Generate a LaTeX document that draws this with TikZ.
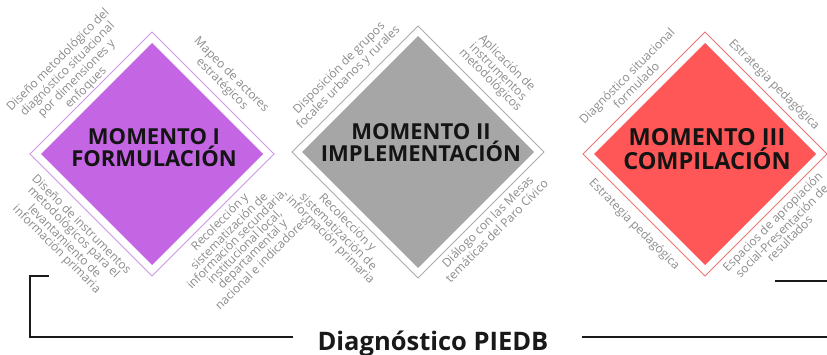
\documentclass[tikz,border=0pt]{standalone}
\usepackage{fontspec}
\setmainfont{Open Sans}
\usetikzlibrary{shapes.geometric}
\definecolor{fillA}{RGB}{196,102,228}
\definecolor{lineA}{RGB}{204,150,230}
\definecolor{fillB}{RGB}{166,166,166}
\definecolor{lineB}{RGB}{172,172,172}
\definecolor{fillC}{RGB}{255,87,87}
\definecolor{lineC}{RGB}{232,118,118}
\definecolor{pasogrey}{RGB}{140,140,140}
\definecolor{cierregrey}{RGB}{25,25,25}
\tikzset{
  rombo/.style={diamond, aspect=1, inner sep=0pt, outer sep=0pt},
  momento/.style={font=\bfseries\fontsize{22}{22}\selectfont, align=center, inner sep=0pt, text=black!92},
  paso/.style={font=\fontsize{12}{11}\selectfont, text=pasogrey, align=center, inner sep=0pt},
  paso tl/.style={paso, rotate=45, anchor=south},
  paso tr/.style={paso, rotate=-45, anchor=south},
  paso bl/.style={paso, rotate=-45, anchor=north},
  paso br/.style={paso, rotate=45, anchor=north},
  cierre/.style={line width=2pt, draw=cierregrey},
}
\begin{document}
\begin{tikzpicture}[x=1pt,y=1pt]
\useasboundingbox (0,0) rectangle (827,354);
% the three moments
\foreach \n/\cx/\cy/\ho/\hi/\f/\l in {1/152/200/244/222/fillA/lineA,
    2/418/202/252/232/fillB/lineB, 3/705/200/244/222/fillC/lineC} {
  \node[rombo, draw=\l, line width=0.9pt, minimum size=\ho pt] (o\n) at (\cx,\cy) {};
  \node[rombo, fill=\f, minimum size=\hi pt] (m\n) at (\cx,\cy) {};
}
\node[momento] (t1) at ([shift={(2,6.5)}]m1.center) {MOMENTO I\\FORMULACIÓN};
\node[momento] (t2) at ([shift={(3,9)}]m2.center) {MOMENTO II\\IMPLEMENTACIÓN};
\node[momento, font=\bfseries\fontsize{23.5}{24.5}\selectfont] (t3) at ([shift={(2,5)}]m3.center) {MOMENTO III\\COMPILACIÓN};
% steps round moment I
\node[paso tl] (p1a) at ([shift={(-0.5,0.5)}]o1.135) {Diseño metodológico del\\diagnóstico situacional\\por dimensiones y\\enfoques};
\node[paso tr] (p1b) at ([shift={(4.5,4.5)}]o1.45) {Mapeo de actores\\estratégicos};
\node[paso bl] (p1c) at ([shift={(-5.5,-5.5)}]o1.225) {Diseño de instrumentos\\metodológicos para el\\levantamiento de\\información primaria};
\node[paso br] (p1d) at ([shift={(3,-3)}]o1.315) {Recolección y\\sistematización de\\información secundaria,\\institucional local,\\departamental y\\nacional e indicadores};
% steps round moment II
\node[paso tl] (p2a) at ([shift={(-2,7)}]o2.135) {Disposición de grupos\\focales urbanos y rurales};
\node[paso tr] (p2b) at ([shift={(4.5,4.5)}]o2.45) {Aplicación de\\instrumentos\\metodológicos};
\node[paso bl] (p2c) at ([shift={(-3.5,-3.5)}]o2.225) {Recolección y\\sistematización de\\información primaria};
\node[paso br] (p2d) at ([shift={(3,-3)}]o2.315) {Diálogo con las Mesas\\temáticas del Paro Cívico};
% steps round moment III
\node[paso tl] (p3a) at ([shift={(-4.5,4.5)}]o3.135) {Diagnóstico situacional\\formulado};
\node[paso tr] (p3b) at ([shift={(3.5,3.5)}]o3.45) {Estrategia pedagógica};
\node[paso bl] (p3c) at ([shift={(-5.5,-5.5)}]o3.225) {Estrategia pedagógica};
\node[paso br] (p3d) at ([shift={(3,-3)}]o3.315) {Espacios de apropiación\\social-Presentación de\\resultados};
% bracket
\node[font=\bfseries\fontsize{25.5}{25.5}\selectfont, text=cierregrey, anchor=base] (diag) at (433,4) {Diagnóstico PIEDB};
\coordinate (l stub) at (49,78);
\coordinate (l top) at (30,78);
\coordinate (l bot) at (30,17);
\coordinate (l end) at (293,17);
\coordinate (r start) at (582,17);
\coordinate (r end) at (835,17);
\coordinate (r stub) at (775,73);
\coordinate (r top) at (835,73);
\draw[cierre] (l stub) -- (l top) -- (l bot) -- (l end);
\draw[cierre] (r start) -- (r end);
\draw[cierre] (r stub) -- (r top);
\end{tikzpicture}
\end{document}
